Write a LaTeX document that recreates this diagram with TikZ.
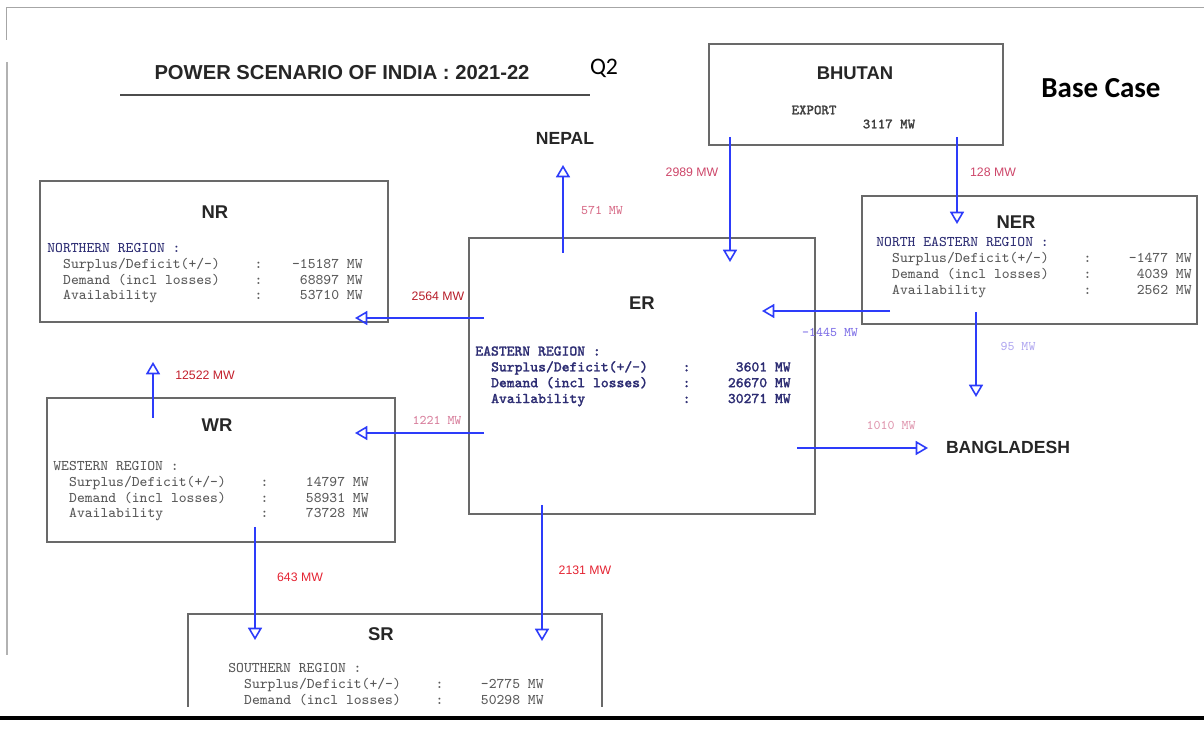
\documentclass[tikz,border=0pt]{standalone}
\usepackage{fontspec}
\setmainfont{Liberation Sans}
\newfontfamily\calibrifont{Carlito}
\newfontfamily\heavytt{Latin Modern Mono}[FakeBold=1.6]
\usetikzlibrary{arrows.meta}

\definecolor{flowblue}{RGB}{45,60,250}
\definecolor{boxgray}{RGB}{105,105,105}
\definecolor{regnavy}{RGB}{45,45,115}
\definecolor{lblred}{RGB}{228,35,50}
\definecolor{lblrose}{RGB}{205,70,105}
\definecolor{lblpink}{RGB}{215,125,155}
\definecolor{lblviolet}{RGB}{125,110,230}

% one line of a region table: name, colon, value
\newcommand{\drow}[2]{\hspace*{9pt}\makebox[109pt][l]{#1}:\makebox[57pt][r]{#2}}

\tikzset{
  regbox/.style={draw=boxgray,line width=1.1pt,inner sep=0pt},
  regname/.style={font=\bfseries\fontsize{10.5}{12}\selectfont,text=black!85},
  regdata/.style={font=\ttfamily\fontsize{8.4}{9}\selectfont,align=left,inner sep=0pt,anchor=north west,text=black!65},
  flow/.style={draw=flowblue,line width=0.9pt,-{Triangle[open,length=7pt,width=8pt]}},
  flowlbl/.style={font=\fontsize{7}{8}\selectfont,inner sep=1pt},
  monolbl/.style={font=\ttfamily\fontsize{7.5}{8}\selectfont,inner sep=1pt},
}

\begin{document}
\begin{tikzpicture}[x=0.02cm,y=-0.02cm]
  \useasboundingbox (0,0) rectangle (1204,749);
  % page frame
  \draw[gray!70,line width=0.5pt] (6,40) -- (6,7) -- (1204,7);
  \draw[gray!60,line width=1.2pt] (7,62) -- (7,655);
  \draw[black,line width=2pt] (0,718) -- (1204,718);

  % heading
  \node[font=\bfseries\fontsize{11.5}{13}\selectfont,text=black!85] (title) at (342,73) {POWER SCENARIO OF INDIA : 2021-22};
  \draw[black!70,line width=1.3pt] (120,95) -- (590,95);
  \node[font=\calibrifont\fontsize{13.5}{15}\selectfont] (qtwo) at (604,68) {Q2};
  \node[font=\calibrifont\bfseries\fontsize{16.5}{18}\selectfont] (basecase) at (1101,88) {Base Case};

  % neighbours
  \node[regbox,minimum width=5.88cm,minimum height=2.02cm] (bhutan) at (856,94.5) {};
  \node[regname] (bhutanname) at (855,73) {BHUTAN};
  \node[font=\heavytt\fontsize{8}{9}\selectfont,text=black!75] (export) at (814,110) {EXPORT};
  \node[font=\heavytt\fontsize{8}{9}\selectfont,text=black!75] (exportval) at (889,124) {3117 MW};
  \node[regname,font=\bfseries\fontsize{10}{12}\selectfont] (nepal) at (565,138) {NEPAL};
  \node[regname,font=\bfseries\fontsize{10}{12}\selectfont] (bangladesh) at (1008,447) {BANGLADESH};

  % NR
  \node[regbox,minimum width=6.96cm,minimum height=2.82cm] (nr) at (214,251.5) {};
  \node[regname] (nrname) at (215,212) {NR};
  \node[regdata] (nrdata) at (47,243) {\textcolor{regnavy}{NORTHERN REGION :}\\
    \drow{Surplus/Deficit(+/-)}{-15187 MW}\\
    \drow{Demand (incl losses)}{68897 MW}\\
    \drow{Availability}{53710 MW}};

  % ER
  \node[regbox,minimum width=6.92cm,minimum height=5.52cm] (er) at (642,376) {};
  \node[regname] (ername) at (642,303) {ER};
  \node[regdata,font=\heavytt\fontsize{8.4}{9}\selectfont,text=regnavy] (erdata) at (475,346) {EASTERN REGION :\\
    \drow{Surplus/Deficit(+/-)}{3601 MW}\\
    \drow{Demand (incl losses)}{26670 MW}\\
    \drow{Availability}{30271 MW}};

  % NER
  \node[regbox,minimum width=6.7cm,minimum height=2.56cm] (ner) at (1029.5,260) {};
  \node[regname] (nername) at (1016,222) {NER};
  \node[regdata] (nerdata) at (876,237) {\textcolor{regnavy}{NORTH EASTERN REGION :}\\
    \drow{Surplus/Deficit(+/-)}{-1477 MW}\\
    \drow{Demand (incl losses)}{4039 MW}\\
    \drow{Availability}{2562 MW}};

  % WR
  \node[regbox,minimum width=6.96cm,minimum height=2.88cm] (wr) at (221,470) {};
  \node[regname] (wrname) at (217,425) {WR};
  \node[regdata] (wrdata) at (53,461) {WESTERN REGION :\\
    \drow{Surplus/Deficit(+/-)}{14797 MW}\\
    \drow{Demand (incl losses)}{58931 MW}\\
    \drow{Availability}{73728 MW}};

  % SR (cut off by the page edge)
  \begin{scope}
    \clip (0,0) rectangle (1204,706);
    \node[regbox,minimum width=8.28cm,minimum height=3cm] (sr) at (395,689) {};
  \end{scope}
  \node[regname] (srname) at (381,634) {SR};
  \node[regdata] (srdata) at (228,663) {SOUTHERN REGION :\\
    \drow{Surplus/Deficit(+/-)}{-2775 MW}\\
    \drow{Demand (incl losses)}{50298 MW}};

  % flow ends
  \coordinate (ertonepal) at (563,253);   \coordinate (nepalin) at (563,165);
  \coordinate (bhutantoer) at (730,137);  \coordinate (erfrombt) at (730,262);
  \coordinate (bhutantoner) at (957,137); \coordinate (nerfrombt) at (957,224);
  \coordinate (ertonr) at (484,318);      \coordinate (nrfromer) at (355,318);
  \coordinate (nertoer) at (890,311);     \coordinate (erfromner) at (762,311);
  \coordinate (nertobd) at (976,312);     \coordinate (bdfromner) at (976,397);
  \coordinate (ertobd) at (797,448);      \coordinate (bdfromer) at (928,448);
  \coordinate (wrtonr) at (153,418);      \coordinate (nrfromwr) at (153,362);
  \coordinate (ertowr) at (484,433);      \coordinate (wrfromer) at (355,433);
  \coordinate (wrtosr) at (255,527);      \coordinate (srfromwr) at (255,640);
  \coordinate (ertosr) at (542,505);      \coordinate (srfromer) at (542,641);

  \draw[flow] (ertonepal) -- (nepalin);
  \draw[flow] (bhutantoer) -- (erfrombt);
  \draw[flow] (bhutantoner) -- (nerfrombt);
  \draw[flow] (ertonr) -- (nrfromer);
  \draw[flow] (nertoer) -- (erfromner);
  \draw[flow] (nertobd) -- (bdfromner);
  \draw[flow] (ertobd) -- (bdfromer);
  \draw[flow] (wrtonr) -- (nrfromwr);
  \draw[flow] (ertowr) -- (wrfromer);
  \draw[flow] (wrtosr) -- (srfromwr);
  \draw[flow] (ertosr) -- (srfromer);

  % flow values
  \node[monolbl,text=lblrose!80] (fnepal) at (602,210) {571 MW};
  \node[flowlbl,text=lblrose] (fbter) at (692,172) {2989 MW};
  \node[flowlbl,text=lblrose] (fbtner) at (993,172) {128 MW};
  \node[flowlbl,text=lblred!80!black] (fernr) at (438,296) {2564 MW};
  \node[monolbl,text=lblviolet] (fnerer) at (830,332) {-1445 MW};
  \node[monolbl,text=lblviolet!60] (fnerbd) at (1018,346) {95 MW};
  \node[monolbl,text=lblpink!80] (ferbd) at (891,425) {1010 MW};
  \node[flowlbl,text=lblred!85!black] (fwrnr) at (205,375) {12522 MW};
  \node[monolbl,text=lblpink] (ferwr) at (437,420) {1221 MW};
  \node[flowlbl,text=lblred] (fwrsr) at (300,577) {643 MW};
  \node[flowlbl,text=lblred] (fersr) at (585,570) {2131 MW};
\end{tikzpicture}
\end{document}
